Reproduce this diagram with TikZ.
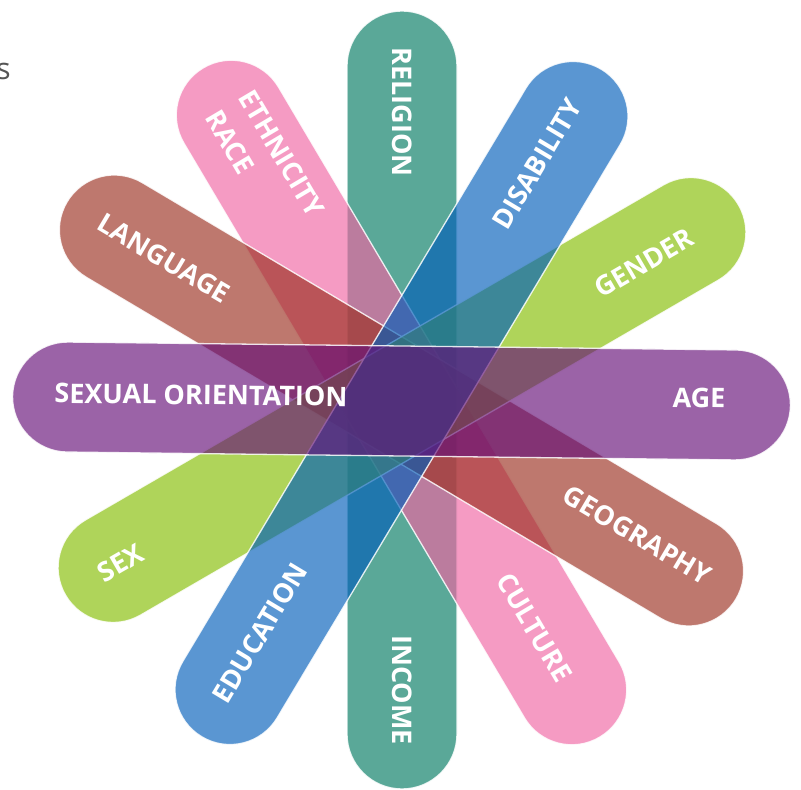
\documentclass[tikz,border=0pt]{standalone}
\usepackage{fontspec}
\setmainfont{Open Sans}
\definecolor{cTeal}{RGB}{1,121,97}
\definecolor{cPink}{RGB}{240,101,163}
\definecolor{cBrown}{RGB}{155,47,32}
\definecolor{cGreen}{RGB}{132,189,1}
\definecolor{cBlue}{RGB}{1,94,186}
\definecolor{cPurple}{RGB}{101,15,120}
\definecolor{cGrey}{RGB}{85,85,85}
% one rounded band: colour, centre x, centre y, angle
\newcommand{\drawband}[4]{%
  \filldraw[band, fill=#1, shift={(#2,#3)}, rotate=#4]
    (-334,-55) -- (334,-55) arc[start angle=-90, end angle=90, radius=55pt]
    -- (-334,55) arc[start angle=90, end angle=270, radius=55pt] -- cycle;}
\tikzset{
  band/.style={fill opacity=0.65, draw=white, draw opacity=0.85, line width=1.3pt},
  lbl/.style={text=white, font=\fontsize{27}{39}\selectfont\bfseries, inner sep=0pt},
}
\begin{document}
\begin{tikzpicture}[x=1pt, y=1pt]
\useasboundingbox (0,0) rectangle (801,790);
% bands, bottom to top
\drawband{cTeal}{402}{390}{90}
\drawband{cPink}{401.5}{387.5}{-59.35}
\drawband{cBrown}{401.5}{389.5}{-30.7}
\drawband{cGreen}{402}{390}{30.1}
\drawband{cBlue}{401.5}{387}{59.1}
\drawband{cPurple}{401.5}{389}{-0.68}
% labels
\node[lbl, rotate=-90] (religion) at (402,678) {RELIGION};
\node[lbl, rotate=-90] (income) at (402,100) {INCOME};
\node[lbl, rotate=-0.68] (sexor) at (201,395) {SEXUAL ORIENTATION};
\node[lbl, rotate=-0.68] (age) at (699,392) {AGE};
\node[lbl, rotate=59.1] (disab) at (537,626) {DISABILITY};
\node[lbl, rotate=59.1] (educ) at (260,157) {EDUCATION};
\node[lbl, rotate=30.1] (gender) at (644,527) {GENDER};
\node[lbl, rotate=30.1] (sex) at (120.5,227) {SEX};
\node[lbl, rotate=-59.35, align=left] (ethn) at (265,626.5) {ETHNICITY\\RACE};
\node[lbl, rotate=-59.35] (culture) at (534.5,162.5) {CULTURE};
\node[lbl, rotate=-30.7] (lang) at (164,531.5) {LANGUAGE};
\node[lbl, rotate=-30.7] (geo) at (637.5,255) {GEOGRAPHY};
\node[text=cGrey, font=\fontsize{30}{36}\selectfont, inner sep=0pt, anchor=base east] (cut) at (11,710) {s};
\end{tikzpicture}
\end{document}
